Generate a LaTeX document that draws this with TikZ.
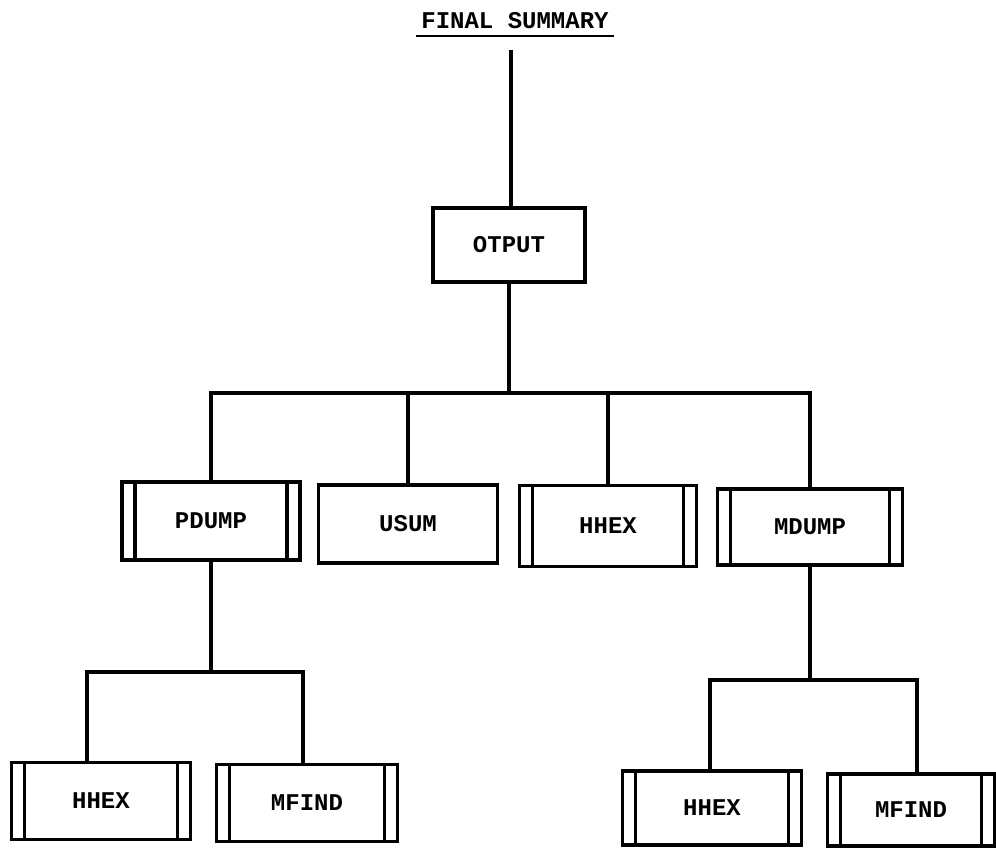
\documentclass[tikz,border=0pt]{standalone}
\usepackage{fontspec}
\setmonofont{Liberation Mono}
\usepackage{tikz}
\usetikzlibrary{calc,positioning}

\begin{document}
\begin{tikzpicture}[x=1pt,y=-1pt,
    line width=3.5pt,
    every node/.style={font=\ttfamily\bfseries\fontsize{24}{26}\selectfont},
    prog/.style={draw,line width=3.5pt,inner sep=0pt,minimum width=#1,minimum height=78pt},
    prog/.default=178pt,
    % library routine: extra bars inside both ends
    libprog/.style={prog=#1,path picture={
        \draw[line width=3.5pt] ([xshift=13pt]path picture bounding box.north west) -- ([xshift=13pt]path picture bounding box.south west);
        \draw[line width=3.5pt] ([xshift=-13pt]path picture bounding box.north east) -- ([xshift=-13pt]path picture bounding box.south east);}},
    libprog/.default=178pt]
      \useasboundingbox (0,0) rectangle (996,848);
      % Title
      \node (title) at (515,21) {FINAL SUMMARY};
      \draw[line width=2.5pt] ([yshift=-2pt]title.south west) -- ([yshift=-2pt]title.south east);
      \coordinate (top) at (511,50);
      % Main routine
      \node[prog=152pt,minimum height=74pt] (otput) at (509,245) {OTPUT};
      \draw (top) -- (otput.north -| top);
      % Second level
      \node[libprog] (pdump) at (211,521) {PDUMP};
      \node[prog=179pt] (usum) at (408,524) {USUM};
      \node[libprog=177pt,minimum height=81pt] (hhexA) at (608,526) {HHEX};
      \node[libprog=185pt,minimum height=76pt] (mdump) at (810,527) {MDUMP};
      \coordinate (busA) at (509,393);
      \draw (otput.south) -- (busA);
      \draw (pdump.north) |- (busA) -| (mdump.north);
      \draw (usum.north) -- (usum.north |- busA);
      \draw (hhexA.north) -- (hhexA.north |- busA);
      % Below PDUMP
      \node[libprog=179pt,minimum height=77pt] (hhexB) at (101,801) {HHEX};
      \node[libprog=181pt,minimum height=77pt] (mfindA) at (307,803) {MFIND};
      \coordinate (busB) at (pdump.south |- 0,672);
      \draw (pdump.south) -- (busB);
      \draw (hhexB.north -| 87,0) |- (busB) -| (mfindA.north -| 303,0);
      % Below MDUMP
      \node[libprog=179pt,minimum height=74pt] (hhexC) at (712,808) {HHEX};
      \node[libprog=167pt,minimum height=72pt] (mfindB) at (911,810) {MFIND};
      \coordinate (busC) at (mdump.south |- 0,680);
      \draw (mdump.south) -- (busC);
      \draw (hhexC.north -| 710,0) |- (busC) -| (mfindB.north -| 917,0);
\end{tikzpicture}
\end{document}
